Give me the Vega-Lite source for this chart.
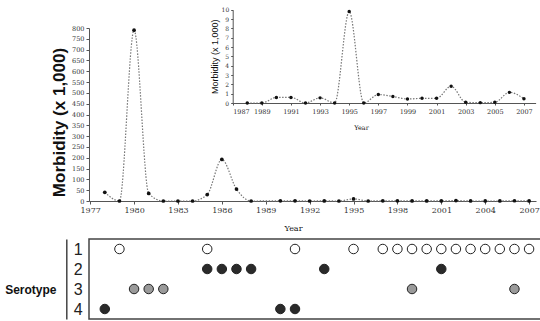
{
  "$schema": "https://vega.github.io/schema/vega-lite/v6.json",
  "background": "white",
  "padding": {"left": 3, "top": 6, "right": 0, "bottom": 0},
  "spacing": 6,
  "config": {
    "view": {"stroke": null},
    "axis": {"grid": false, "domainColor": "#555", "tickColor": "#555", "labelColor": "#333", "titleColor": "#111"}
  },
  "datasets": {
    "main": [
      {"year": 1978, "value": 40}, {"year": 1979, "value": 0}, {"year": 1980, "value": 790},
      {"year": 1981, "value": 35}, {"year": 1982, "value": 0}, {"year": 1983, "value": 0},
      {"year": 1984, "value": 0}, {"year": 1985, "value": 30}, {"year": 1986, "value": 192},
      {"year": 1987, "value": 55}, {"year": 1988, "value": 0}, {"year": 1990, "value": 0.6},
      {"year": 1991, "value": 0.6}, {"year": 1992, "value": 0}, {"year": 1993, "value": 0.55},
      {"year": 1994, "value": 0}, {"year": 1995, "value": 9.8}, {"year": 1996, "value": 0},
      {"year": 1997, "value": 0.9}, {"year": 1998, "value": 0.7}, {"year": 1999, "value": 0.43},
      {"year": 2000, "value": 0.5}, {"year": 2001, "value": 0.5}, {"year": 2002, "value": 1.8},
      {"year": 2003, "value": 0.07}, {"year": 2004, "value": 0.04}, {"year": 2005, "value": 0.07},
      {"year": 2006, "value": 1.14}, {"year": 2007, "value": 0.46}
    ],
    "inset": [
      {"year": 1988, "value": 0}, {"year": 1989, "value": 0}, {"year": 1990, "value": 0.6},
      {"year": 1991, "value": 0.6}, {"year": 1992, "value": 0}, {"year": 1993, "value": 0.55},
      {"year": 1994, "value": 0}, {"year": 1995, "value": 9.8}, {"year": 1996, "value": 0},
      {"year": 1997, "value": 0.9}, {"year": 1998, "value": 0.7}, {"year": 1999, "value": 0.43},
      {"year": 2000, "value": 0.5}, {"year": 2001, "value": 0.5}, {"year": 2002, "value": 1.8},
      {"year": 2003, "value": 0.07}, {"year": 2004, "value": 0.04}, {"year": 2005, "value": 0.07},
      {"year": 2006, "value": 1.14}, {"year": 2007, "value": 0.46}
    ],
    "sero": [
      {"year": 1979, "serotype": 1}, {"year": 1985, "serotype": 1}, {"year": 1991, "serotype": 1},
      {"year": 1995, "serotype": 1}, {"year": 1997, "serotype": 1}, {"year": 1998, "serotype": 1},
      {"year": 1999, "serotype": 1}, {"year": 2000, "serotype": 1}, {"year": 2001, "serotype": 1},
      {"year": 2002, "serotype": 1}, {"year": 2003, "serotype": 1}, {"year": 2004, "serotype": 1},
      {"year": 2005, "serotype": 1}, {"year": 2006, "serotype": 1}, {"year": 2007, "serotype": 1},
      {"year": 1985, "serotype": 2}, {"year": 1986, "serotype": 2}, {"year": 1987, "serotype": 2},
      {"year": 1988, "serotype": 2}, {"year": 1993, "serotype": 2}, {"year": 2001, "serotype": 2},
      {"year": 1980, "serotype": 3}, {"year": 1981, "serotype": 3}, {"year": 1982, "serotype": 3},
      {"year": 1999, "serotype": 3}, {"year": 2006, "serotype": 3},
      {"year": 1978, "serotype": 4}, {"year": 1990, "serotype": 4}, {"year": 1991, "serotype": 4}
    ]
  },
  "vconcat": [
    {
      "width": 447,
      "height": 173,
      "layer": [
        {
          "data": {"name": "main"},
          "encoding": {
            "x": {"field": "year", "type": "quantitative",
              "scale": {"domain": [1976.92, 2007.47], "nice": false, "zero": false},
              "axis": {"values": [1977, 1980, 1983, 1986, 1989, 1992, 1995, 1998, 2001, 2004, 2007], "format": "d",
                "labelFont": "DejaVu Serif", "labelFontSize": 8, "tickSize": 3, "labelPadding": 2,
                "title": "Year", "titleFont": "DejaVu Serif", "titleFontSize": 8, "titleFontWeight": "normal",
                "titleX": 204, "titleY": 27, "titleBaseline": "middle"}},
            "y": {"field": "value", "type": "quantitative",
              "scale": {"domain": [0, 800], "nice": false},
              "axis": {"values": [0, 50, 100, 150, 200, 250, 300, 350, 400, 450, 500, 550, 600, 650, 700, 750, 800],
                "labelFont": "DejaVu Serif", "labelFontSize": 6.5, "tickSize": 3, "labelPadding": 2,
                "title": "Morbidity (x 1,000)", "titleFont": "Liberation Sans", "titleFontSize": 17, "titleFontWeight": "bold", "titlePadding": 3,
                "titleY": 94}}
          },
          "layer": [
            {"mark": {"type": "line", "interpolate": "monotone", "color": "#777", "strokeDash": [1.5, 1.5], "strokeWidth": 1.2}},
            {"mark": {"type": "point", "filled": true, "color": "#111", "size": 14, "opacity": 1}}
          ]
        },
        {
          "data": {"name": "inset"},
          "encoding": {
            "x": {"field": "year", "type": "quantitative",
              "scale": {"domain": [1987, 2007.8], "nice": false, "zero": false, "range": [143.7, 446.6]},
              "axis": {"orient": "bottom", "offset": -98, "values": [1987, 1989, 1991, 1993, 1995, 1997, 1999, 2001, 2003, 2005, 2007], "format": "d",
                "labelFont": "DejaVu Serif", "labelFontSize": 6.5, "tickSize": 2, "labelPadding": 3,
                "title": "Year", "titleFont": "DejaVu Serif", "titleFontSize": 6.5, "titleFontWeight": "normal",
                "titleX": 272, "titleY": 24, "titleBaseline": "middle"}},
            "y": {"field": "value", "type": "quantitative",
              "scale": {"domain": [0, 10], "nice": false, "range": [75, -18.3]},
              "axis": {"orient": "left", "offset": -143.7, "values": [0, 1, 2, 3, 4, 5, 6, 7, 8, 9, 10],
                "labelFont": "DejaVu Serif", "labelFontSize": 6, "tickSize": 2, "labelPadding": 2,
                "title": "Morbidity (x 1,000)", "titleFont": "Liberation Sans", "titleFontSize": 9, "titleFontWeight": "normal", "titlePadding": 2}}
          },
          "layer": [
            {"mark": {"type": "line", "interpolate": "monotone", "color": "#777", "strokeDash": [1.5, 1.5], "strokeWidth": 1.2}},
            {"mark": {"type": "point", "filled": true, "color": "#111", "size": 12, "opacity": 1}}
          ]
        }
      ],
      "resolve": {"scale": {"x": "independent", "y": "independent"}, "axis": {"x": "independent", "y": "independent"}}
    },
    {
      "width": 455,
      "height": 80,
      "data": {"name": "sero"},
      "view": {"stroke": "#444", "strokeWidth": 1.5},
      "mark": {"type": "point", "filled": true, "size": 90, "stroke": "#222", "strokeWidth": 1, "opacity": 1},
      "encoding": {
        "x": {"field": "year", "type": "quantitative",
          "scale": {"domain": [1976.92, 2008.02], "nice": false, "zero": false}, "axis": null},
        "y": {"field": "serotype", "type": "ordinal", "scale": {"domain": [1, 2, 3, 4]},
          "axis": {"orient": "left", "offset": 22.7, "ticks": false, "labelPadding": -7, "labelAlign": "left",
            "labelFont": "Liberation Sans", "labelFontSize": 16, "labelColor": "#222", "domainColor": "#444", "domainWidth": 1.5,
            "title": "Serotype", "titleAngle": 0, "titleFont": "Liberation Sans", "titleFontSize": 12, "titleFontWeight": "bold",
            "titleX": -36, "titleY": 50, "titleAlign": "center", "titleBaseline": "middle"}},
        "fill": {"field": "serotype", "type": "ordinal",
          "scale": {"domain": [1, 2, 3, 4], "range": ["#ffffff", "#2a2a2a", "#9a9a9a", "#2a2a2a"]}, "legend": null}
      }
    }
  ]
}
